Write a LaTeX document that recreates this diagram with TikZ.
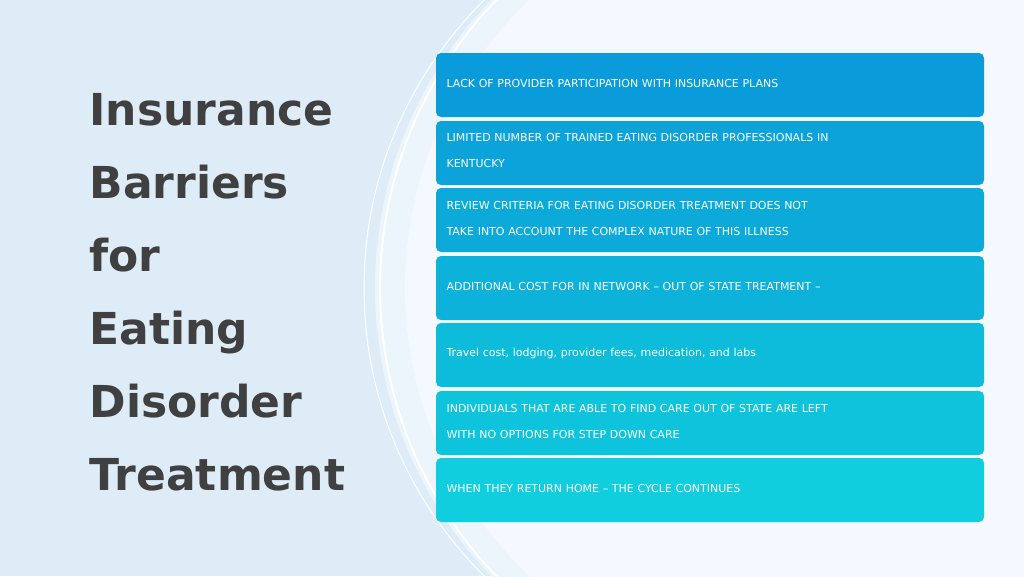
\documentclass[tikz,border=0pt]{standalone}
\usepackage{fontspec}
\setmainfont{DejaVu Sans}
\begin{document}
\begin{tikzpicture}[x=1pt,y=-1pt,
  bx/.style={rounded corners=5pt,minimum width=548pt,minimum height=64pt,inner sep=0pt},
  bt/.style={text=white,font=\fontsize{11}{26}\selectfont,align=left,text width=530pt,anchor=west},
  tt/.style={text=black!75,font=\bfseries\fontsize{44}{44}\selectfont,anchor=base west}]
\useasboundingbox (0,0) rectangle (1024,576);
\fill[fill={rgb,255:red,221;green,236;blue,247}] (0,0) rectangle (1024,576);
\begin{scope}
\clip (0,0) rectangle (1024,576);
\fill[fill={rgb,255:red,236;green,245;blue,252}] (790,288) circle (415);
\fill[fill={rgb,255:red,243;green,249;blue,254}] (800,288) circle (395);
\draw[white,line width=1pt] (769,288) circle (405);
\draw[white,line width=2pt] (795,288) circle (415);
\end{scope}
\foreach \t [count=\i] in {Insurance,Barriers,for,Eating,Disorder,Treatment}
  \node[tt] (t\i) at (86,52+73*\i) {\t};
\foreach \y/\r/\g/\b [count=\i] in {85/10/156/218, 153/11/163/218, 220/12/170/218, 288/12/178/218, 355/13/187/219, 423/14/196/220, 490/16/206/221}{
  \definecolor{c\i}{RGB}{\r,\g,\b}
  \node[bx,fill=c\i] (b\i) at (710,\y) {};
}
\node[bt] (l1) at (443,83) {LACK OF PROVIDER PARTICIPATION WITH INSURANCE PLANS};
\node[bt] (l2) at (443,150) {LIMITED NUMBER OF TRAINED EATING DISORDER PROFESSIONALS IN\\KENTUCKY};
\node[bt] (l3) at (443,218) {REVIEW CRITERIA FOR EATING DISORDER TREATMENT DOES NOT\\TAKE INTO ACCOUNT THE COMPLEX NATURE OF THIS ILLNESS};
\node[bt] (l4) at (443,286) {ADDITIONAL COST FOR IN NETWORK – OUT OF STATE TREATMENT –};
\node[bt] (l5) at (443,353) {Travel cost, lodging, provider fees, medication, and labs};
\node[bt] (l6) at (443,421) {INDIVIDUALS THAT ARE ABLE TO FIND CARE OUT OF STATE ARE LEFT\\WITH NO OPTIONS FOR STEP DOWN CARE};
\node[bt] (l7) at (443,488) {WHEN THEY RETURN HOME – THE CYCLE CONTINUES};
\end{tikzpicture}
\end{document}
